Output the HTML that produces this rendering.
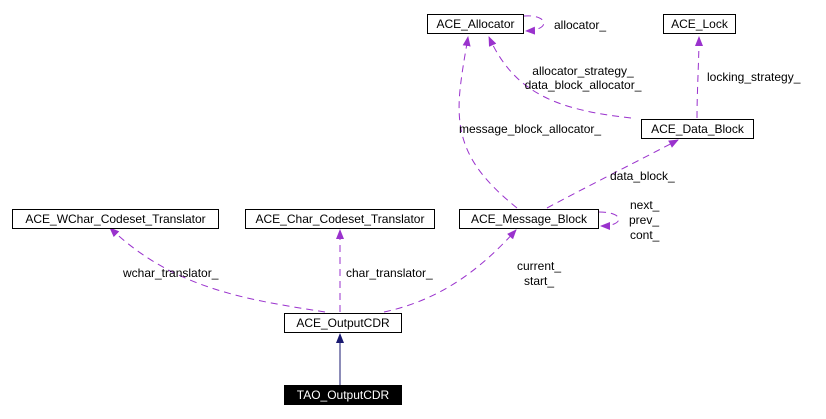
<!DOCTYPE html>
<html><head><meta charset="utf-8"><style>
html,body{margin:0;padding:0;background:#fff;}
svg{display:block;}
text{font-family:"Liberation Sans",Arial,sans-serif;font-size:12px;fill:#000;}
</style></head><body>
<svg width="826" height="419" viewBox="0 0 826 419" xmlns="http://www.w3.org/2000/svg">
<defs>
<marker id="p" markerWidth="10" markerHeight="10" refX="9" refY="5" orient="auto" markerUnits="userSpaceOnUse"><path d="M0,1 L10,5 L0,9 Z" fill="#9a32cd"/></marker>
<marker id="n" markerWidth="10" markerHeight="10" refX="9" refY="5" orient="auto" markerUnits="userSpaceOnUse"><path d="M0,1 L10,5 L0,9 Z" fill="#191970"/></marker>
</defs>
<g fill="none" stroke="#9a32cd" stroke-width="1" stroke-dasharray="7,5">
<path d="M524,16 C548,14 552,30 526,31" marker-end="url(#p)"/>
<path d="M631,118 C560,110 515,95 489,37" marker-end="url(#p)"/>
<path d="M697,118 C697,90 699,60 699,37" marker-end="url(#p)"/>
<path d="M517,208 C470,170 455,140 460,90 C462,70 466,50 468,37" marker-end="url(#p)"/>
<path d="M547,208 C590,185 640,160 678,140" marker-end="url(#p)"/>
<path d="M599,212 C625,212 625,226 601,226" marker-end="url(#p)"/>
<path d="M325,312 C250,300 175,290 110,228" marker-end="url(#p)"/>
<path d="M340,312 L340,230" marker-end="url(#p)"/>
<path d="M384,312 C440,300 480,270 516,230" marker-end="url(#p)"/>
</g>
<path d="M340,385 L340,334" stroke="#191970" stroke-width="1" fill="none" marker-end="url(#n)"/>
<g fill="#fff" stroke="#000" stroke-width="1">
<rect x="427.5" y="14.5" width="96" height="19"/>
<rect x="663.5" y="14.5" width="72" height="19"/>
<rect x="641.5" y="119.5" width="112" height="19"/>
<rect x="459.5" y="209.5" width="139" height="19"/>
<rect x="12.5" y="209.5" width="206" height="19"/>
<rect x="245.5" y="209.5" width="189" height="19"/>
<rect x="284.5" y="313.5" width="117" height="19"/>
<rect x="284.5" y="385.5" width="117" height="19" fill="#000"/>
</g>
<text x="475.5" y="28" text-anchor="middle">ACE_Allocator</text>
<text x="699.5" y="28" text-anchor="middle">ACE_Lock</text>
<text x="697.5" y="133" text-anchor="middle">ACE_Data_Block</text>
<text x="529" y="223" text-anchor="middle">ACE_Message_Block</text>
<text x="115.5" y="223" text-anchor="middle">ACE_WChar_Codeset_Translator</text>
<text x="340" y="223" text-anchor="middle">ACE_Char_Codeset_Translator</text>
<text x="343" y="327" text-anchor="middle">ACE_OutputCDR</text>
<text x="343" y="399" text-anchor="middle" style="fill:#fff">TAO_OutputCDR</text>
<text x="554" y="29">allocator_</text>
<text x="583" y="75" text-anchor="middle">allocator_strategy_</text>
<text x="583" y="89" text-anchor="middle">data_block_allocator_</text>
<text x="707" y="81">locking_strategy_</text>
<text x="459" y="133">message_block_allocator_</text>
<text x="610" y="180">data_block_</text>
<text x="630" y="209">next_</text>
<text x="629" y="224">prev_</text>
<text x="630" y="239">cont_</text>
<text x="123" y="277">wchar_translator_</text>
<text x="346" y="277">char_translator_</text>
<text x="517" y="270">current_</text>
<text x="524" y="285">start_</text>
</svg>
</body></html>
